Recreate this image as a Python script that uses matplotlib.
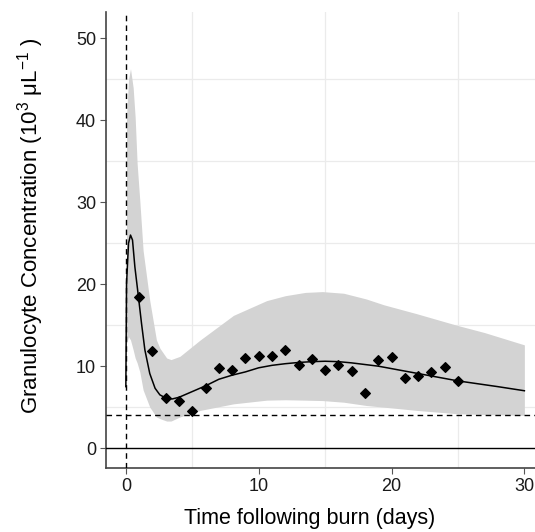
"""
Granulocyte concentration after burn: model fit, band and observations
"""
import numpy as np
from matplotlib import pyplot as plt

plt.rcParams['font.family'] = ['Liberation Sans', 'DejaVu Sans']
plt.rcParams['mathtext.fontset'] = 'custom'
plt.rcParams['mathtext.rm'] = 'Liberation Sans'
plt.rcParams['mathtext.it'] = 'Liberation Sans'

# observed counts (days, 10^3 / uL)
obs_day = [1, 2, 3, 4, 5, 6, 7, 8, 9, 10, 11, 12, 13, 14, 15, 16, 17, 18,
           19, 20, 21, 22, 23, 24, 25]
obs_val = [18.5, 11.8, 6.1, 5.7, 4.5, 7.3, 9.8, 9.5, 11.0, 11.3, 11.3, 11.95,
           10.1, 10.9, 9.5, 10.1, 9.4, 6.7, 10.8, 11.1, 8.5, 8.8, 9.3, 9.9, 8.2]

# model curve
fit_day = [0, 0.05, 0.2, 0.35, 0.5, 0.68, 0.93, 1.18, 1.43, 1.8, 2.2, 2.56,
           3.07, 3.5, 4, 5, 6, 7, 8, 9, 10, 11, 12, 13, 14, 15, 16, 17, 18,
           19, 20, 22, 25, 28, 30]
fit_val = [7.5, 20, 25, 26, 25.4, 22.1, 18.7, 15.2, 12.0, 9.1, 7.3, 6.5,
           6.05, 6.0, 6.2, 6.9, 7.6, 8.4, 8.9, 9.3, 9.8, 10.1, 10.3, 10.45,
           10.55, 10.6, 10.55, 10.4, 10.2, 10.0, 9.7, 9.1, 8.2, 7.5, 7.0]

# prediction band
band_day = [0.05, 0.2, 0.35, 0.55, 0.7, 0.85, 1.05, 1.3, 1.8, 2.3, 2.56, 3.07,
            3.4, 4.07, 5.6, 8.1, 10.6, 12, 13.5, 14.8, 16.4, 18.1, 19.4,
            21.9, 24.9, 27, 30]
band_hi = [40.5, 45, 46.3, 44, 40.4, 34.7, 30.2, 24.1, 18.0, 13.2, 12.2,
           11.0, 10.8, 11.2, 13.2, 16.2, 18.0, 18.6, 19.0, 19.1, 18.9, 18.2,
           17.5, 16.4, 15.0, 14.1, 12.6]
band_lo = [12.8, 13.6, 13.2, 12.0, 11.0, 10.4, 9.3, 7.1, 5.0, 3.8, 3.6, 3.3,
           3.3, 3.8, 4.6, 5.4, 5.85, 5.9, 5.85, 5.8, 5.6, 5.2, 5.0, 4.6, 4.2,
           4.1, 4.0]

fig = plt.figure(figsize=(5.35, 5.32), dpi=100)
ax = fig.add_axes([0.198, 0.12, 0.802, 0.857])

ax.fill_between(band_day, band_lo, band_hi, color='#D3D3D3', lw=0, zorder=2)
ax.plot(fit_day, fit_val, color='black', lw=1.1, zorder=4)
ax.scatter(obs_day, obs_val, marker='D', s=24, color='black', zorder=5)

ax.axhline(0, color='black', lw=1.0, zorder=3)
ax.axhline(4, color='black', lw=1.0, ls=(0, (4, 3)), zorder=3)
ax.axvline(0, color='black', lw=1.0, ls=(0, (4, 3)), zorder=3)

ax.set_xlim(-1.5, 30.8)
ax.set_ylim(-2.45, 53.2)
ax.set_xticks([0, 10, 20, 30])
ax.set_yticks([0, 10, 20, 30, 40, 50])
ax.set_xticks([5, 15, 25], minor=True)
ax.set_yticks([5, 15, 25, 35, 45], minor=True)
ax.grid(True, which='minor', color='#EBEBEB', lw=0.9, zorder=0)
ax.set_axisbelow(True)
ax.tick_params(which='minor', length=0)
ax.tick_params(which='major', length=4, color='#555555', labelsize=13,
               labelcolor='#1A1A1A', pad=3)

for s in ['top', 'right']:
    ax.spines[s].set_visible(False)
for s in ['left', 'bottom']:
    ax.spines[s].set_color('#444444')
    ax.spines[s].set_linewidth(1.2)

ax.set_xlabel('Time following burn (days)', fontsize=15.5, va='center')
ax.set_ylabel(r'Granulocyte Concentration (10$^3$ μL$^{-1}$ )',
              fontsize=16, va='center')
ax.xaxis.set_label_coords(0.474, -0.11)
ax.yaxis.set_label_coords(-0.176, 0.532)

fig.savefig('out.png', dpi=100)
